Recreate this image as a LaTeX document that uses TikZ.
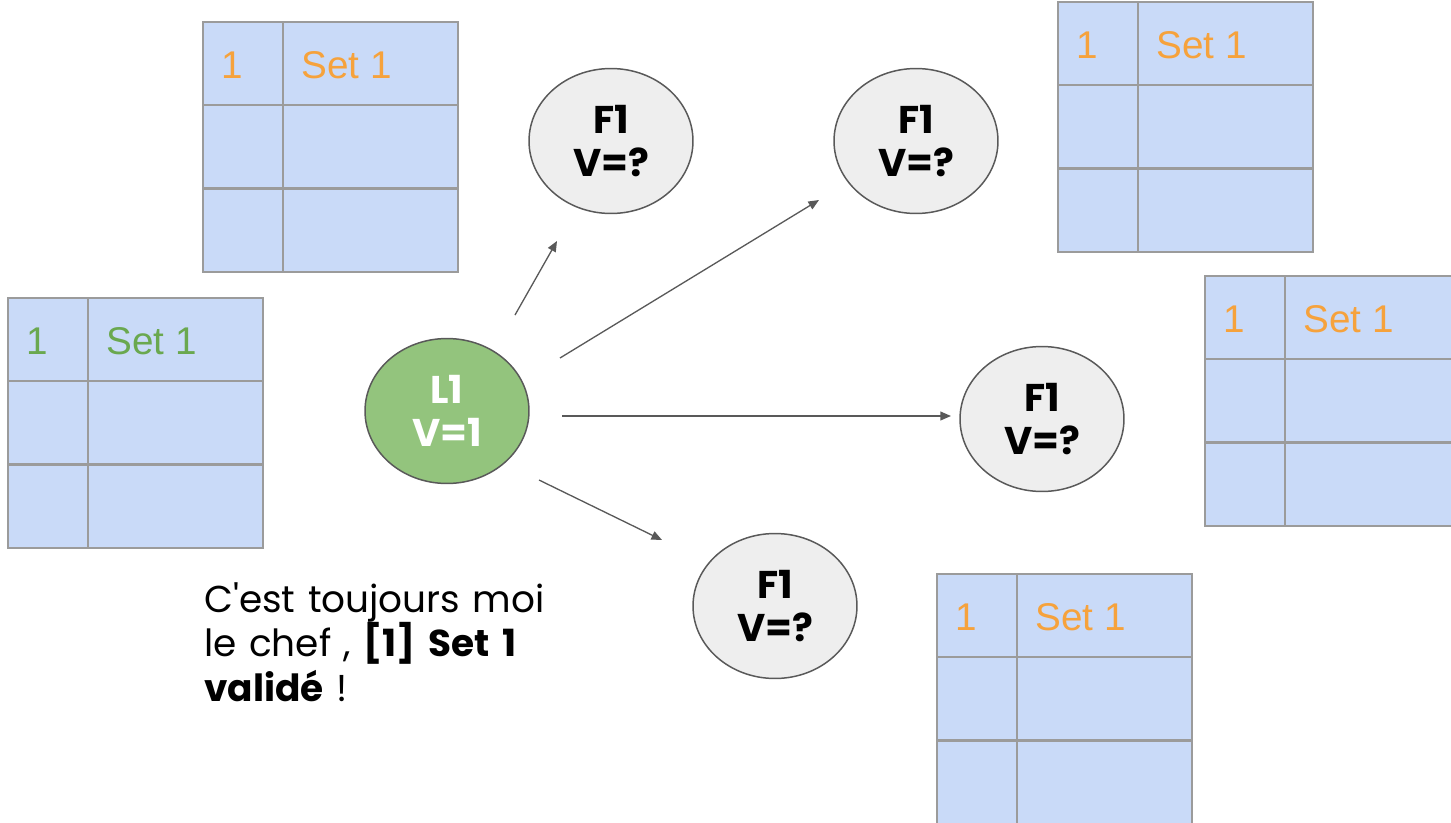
\documentclass[tikz,border=0pt]{standalone}
\usepackage{fontspec}
\setmainfont{Liberation Sans}
\newfontfamily\popf{Poppins}
\usetikzlibrary{arrows.meta,shapes.geometric}
\definecolor{cellfill}{HTML}{C9DAF8}
\definecolor{cellline}{HTML}{9B9B9B}
\definecolor{orangetxt}{HTML}{F6A23C}
\definecolor{greentxt}{HTML}{6AA84F}
\definecolor{leadfill}{HTML}{93C47D}
\definecolor{follfill}{HTML}{EEEEEE}
\definecolor{edgegrey}{HTML}{595959}
\tikzset{
  bubble/.style={ellipse, draw=edgegrey, line width=0.85pt, minimum width=3.28cm, minimum height=2.9cm, inner sep=0pt, align=center, font=\popf\bfseries\fontsize{22}{24.8}\selectfont},
  leader/.style={bubble, fill=leadfill, text=white},
  follower/.style={bubble, fill=follfill, text=black},
  tabtxt/.style={anchor=base west, inner sep=0pt, font=\fontsize{22}{26}\selectfont},
  gridline/.style={draw=cellline, line width=1.25pt},
  arr/.style={draw=edgegrey, line width=0.75pt, -{Triangle[length=6pt,width=5pt]}},
  caption/.style={anchor=north west, inner sep=0pt, align=left, text width=8cm, font=\popf\fontsize{21.3}{25.5}\selectfont}
}
\newcommand\settab[4]{%
  \fill[cellfill] (#1,#2) rectangle ++(255,250);
  \draw[gridline] (#1,#2) rectangle ++(255,250);
  \draw[gridline] (#1+80,#2) -- ++(0,250);
  \draw[gridline] (#1,#2+83) -- ++(255,0);
  \draw[gridline] (#1,#2+166.5) -- ++(255,0);
  \node[tabtxt, text=#3] (#4num) at (#1+18,#2+56) {1};
  \node[tabtxt, text=#3] (#4set) at (#1+98,#2+56) {Set 1};
}
\begin{document}
\begin{tikzpicture}[x=0.02cm,y=-0.02cm]
\useasboundingbox (0,0) rectangle (1451,822);
\clip (0,0) rectangle (1451,822);
% tables
\settab{203}{22}{orangetxt}{ta}
\settab{8}{298}{greentxt}{tb}
\settab{1058}{2}{orangetxt}{tc}
\settab{1205}{276}{orangetxt}{td}
\settab{937}{574}{orangetxt}{te}
% bubbles
\node[leader] (L1) at (447,411) {L1\\V=1};
\node[follower] (Fa) at (611,141) {F1\\V=?};
\node[follower] (Fb) at (916,141) {F1\\V=?};
\node[follower] (Fc) at (1042,419) {F1\\V=?};
\node[follower] (Fd) at (775,606) {F1\\V=?};
% arrow ends
\coordinate (a1s) at (515,315);
\coordinate (a1e) at (557,241);
\coordinate (a2s) at (560,358);
\coordinate (a2e) at (819,200);
\coordinate (a3s) at (562,416);
\coordinate (a3e) at (951,416);
\coordinate (a4s) at (539,480);
\coordinate (a4e) at (662,540);
\draw[arr] (a1s) -- (a1e);
\draw[arr] (a2s) -- (a2e);
\draw[arr] (a3s) -- (a3e);
\draw[arr] (a4s) -- (a4e);
% caption
\node[caption] (cap) at (204,582) {C'est toujours moi\\le chef , \textbf{[1] Set 1}\\\textbf{validé} !};
\end{tikzpicture}
\end{document}
